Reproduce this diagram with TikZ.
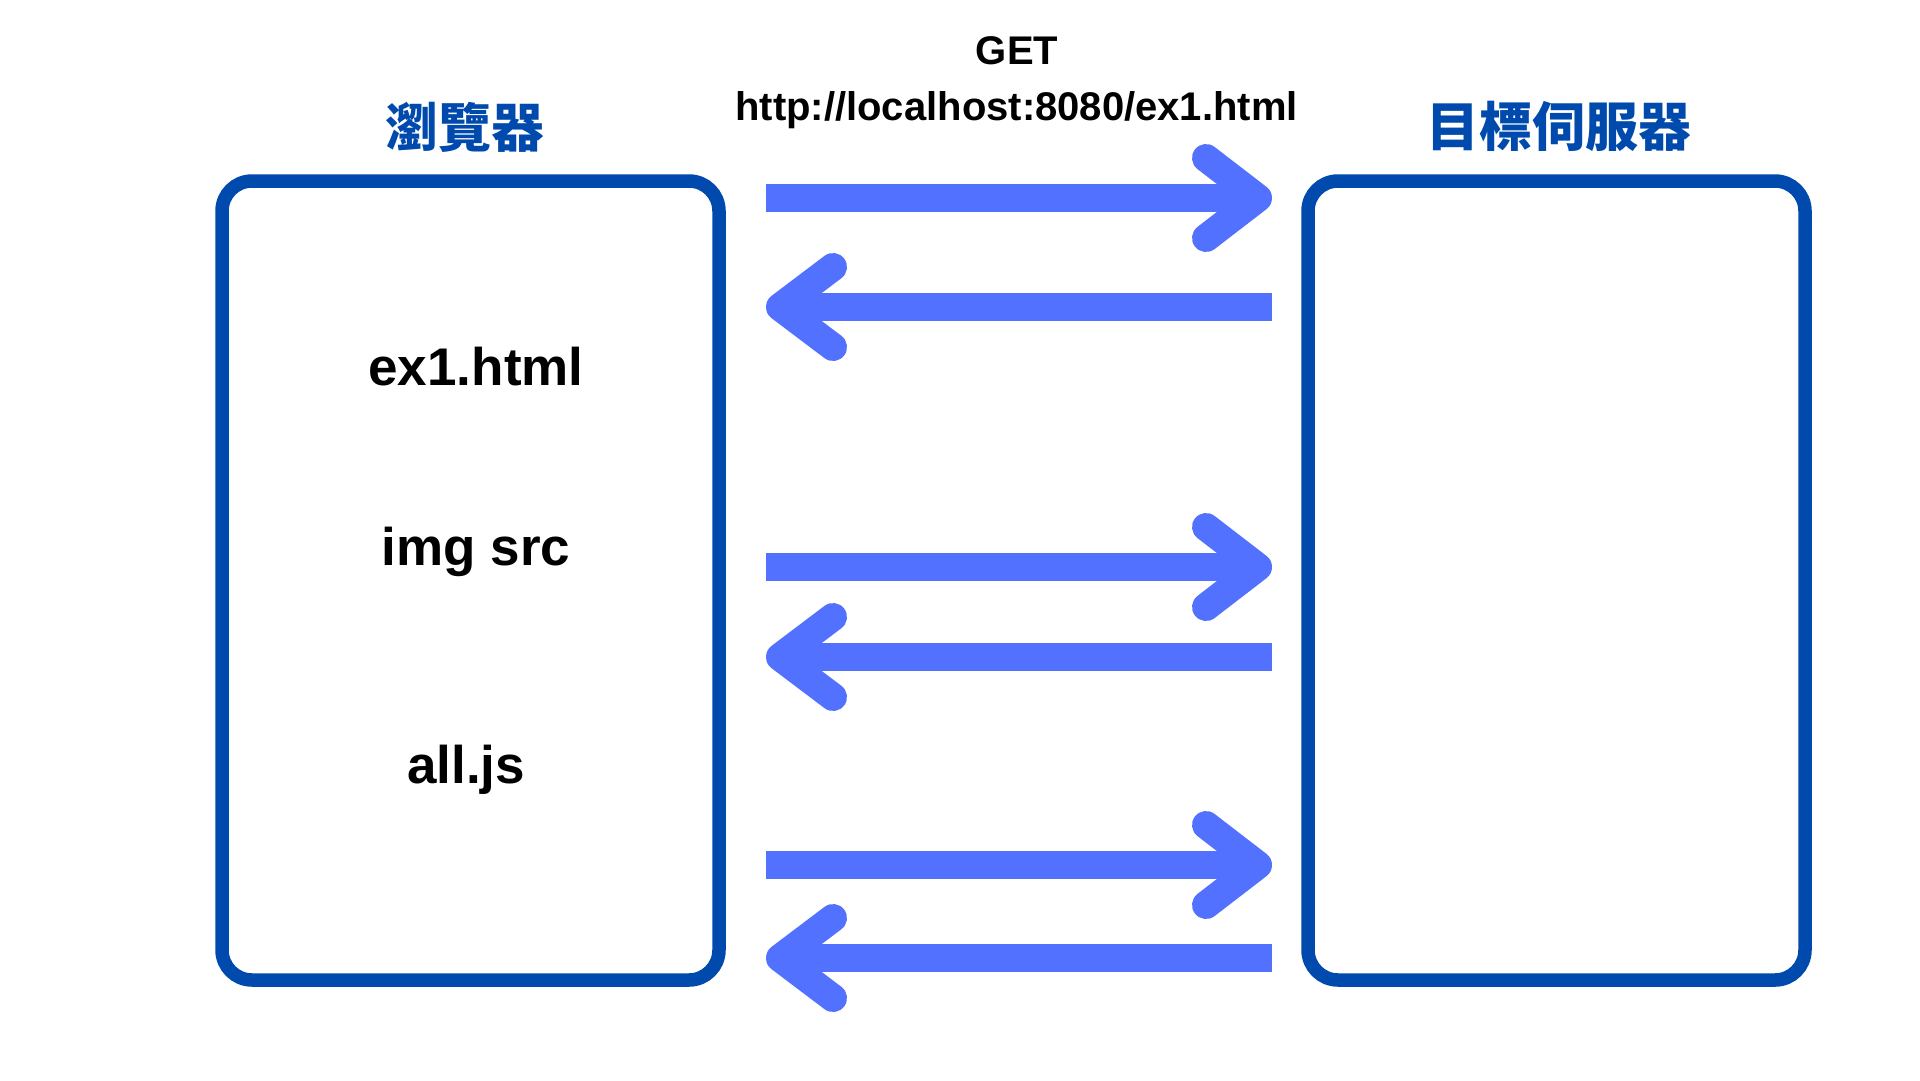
\documentclass[tikz,border=0pt]{standalone}
\usepackage{fontspec}
\setmainfont{Liberation Sans}
\newfontfamily\cjkfont{Noto Sans CJK TC}
\usetikzlibrary{calc}
\definecolor{boxblue}{HTML}{004AAD}
\definecolor{arrowblue}{HTML}{5271FF}
\tikzset{
  panel/.style={draw=boxblue, line width=13.5pt, rounded corners=30pt, minimum width=497pt, minimum height=799pt, inner sep=0pt},
  cjktitle/.style={text=boxblue, font=\cjkfont\bfseries\fontsize{53}{60}\selectfont, inner sep=0pt, anchor=center},
  filelabel/.style={font=\bfseries\fontsize{53}{60}\selectfont, inner sep=0pt, anchor=base},
  reqlabel/.style={font=\bfseries\fontsize{40}{46}\selectfont, inner sep=0pt, anchor=base},
  shaft/.style={draw=arrowblue, line width=28pt},
  barb/.style={draw=arrowblue, line width=28pt, line cap=round, line join=round}
}
\begin{document}
\begin{tikzpicture}[x=1pt,y=-1pt]
\useasboundingbox[fill=white] (0,0) rectangle (1920,1080);
% boxes
\node[panel] (browser) at (470.5,580.5) {};
\node[panel] (server) at (1556.5,580.5) {};
% titles
\node[cjktitle] (browsertitle) at (465,127) {瀏覽器};
\node[cjktitle] (servertitle) at (1559,126) {目標伺服器};
% request label
\node[reqlabel] (get) at (1017,64) {GET};
\node[reqlabel] (url) at (1016.5,120) {http://localhost:8080/ex1.html};
% file labels
\node[filelabel] (ex1) at (476,385) {ex1.html};
\node[filelabel] (img) at (476,565) {img src};
\node[filelabel] (alljs) at (466,783) {all.js};
% arrow end points
\coordinate (r1s) at (766,198);  \coordinate (r1e) at (1258,198);
\coordinate (l1s) at (1272,307); \coordinate (l1e) at (780,307);
\coordinate (r2s) at (766,567);  \coordinate (r2e) at (1258,567);
\coordinate (l2s) at (1272,657); \coordinate (l2e) at (780,657);
\coordinate (r3s) at (766,865);  \coordinate (r3e) at (1258,865);
\coordinate (l3s) at (1272,958); \coordinate (l3e) at (780,958);
% right-pointing arrows
\foreach \s/\e in {r1s/r1e, r2s/r2e, r3s/r3e}{
  \draw[shaft] (\s) -- (\e);
  \draw[barb] ($(\e)+(-52,-40)$) -- (\e) -- ($(\e)+(-52,40)$);
}
% left-pointing arrows
\foreach \s/\e in {l1s/l1e, l2s/l2e, l3s/l3e}{
  \draw[shaft] (\s) -- (\e);
  \draw[barb] ($(\e)+(53,-40)$) -- (\e) -- ($(\e)+(53,40)$);
}
\end{tikzpicture}
\end{document}
